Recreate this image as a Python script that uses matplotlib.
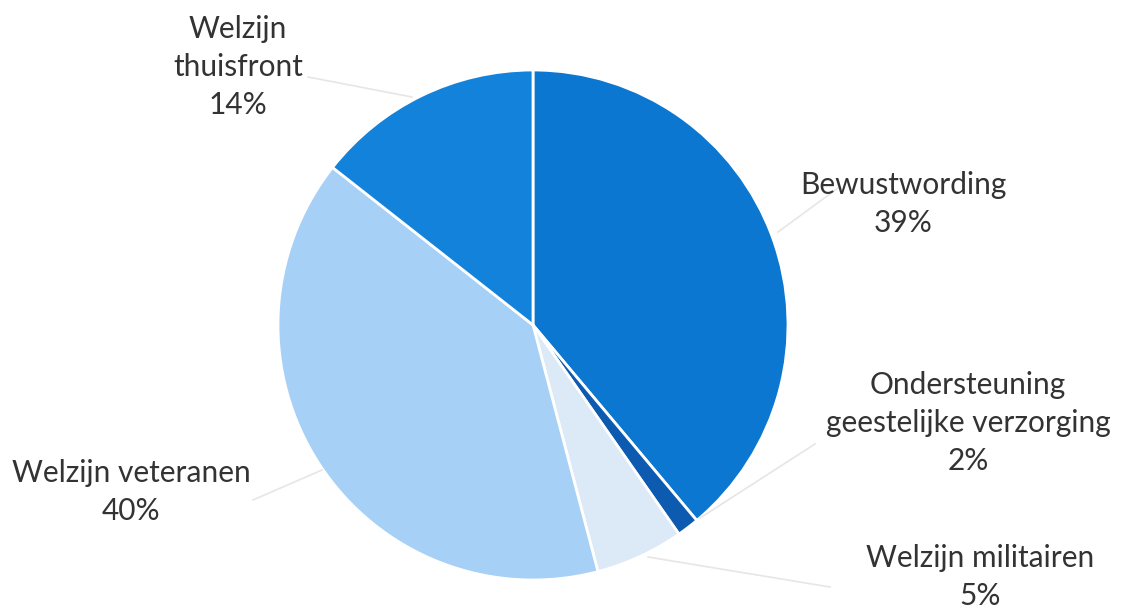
import matplotlib.pyplot as plt

#=====================================================================
#data
#=====================================================================
categories = ['Bewustwording', 'Ondersteuning\ngeestelijke verzorging',
              'Welzijn militairen', 'Welzijn veteranen', 'Welzijn\nthuisfront']
shares = [38.9, 1.4, 5.6, 39.7, 14.4]
pct_labels = ['39%', '2%', '5%', '40%', '14%']
colors = ['#0b77d1', '#0d5bb0', '#dce9f7', '#a6d0f5', '#1382da']

#label centres (figure pixels, top-left origin) and leader line ends
label_pos = [(903, 204), (968, 423), (980, 577), (131, 492), (238, 67)]
leader = [((838, 188), (778, 232)),
          ((815, 444), (700, 518)),
          ((830, 587), (648, 557)),
          ((253, 500), (322, 470)),
          ((308, 77), (412, 97))]

W, H = 1123, 611
cx, cy, r = 533, 325, 255

plt.rcParams['font.family'] = ['Lato', 'DejaVu Sans']

fig = plt.figure(figsize=(W / 100, H / 100), dpi=100)
ax = fig.add_axes([(cx - r) / W, (H - cy - r) / H, 2 * r / W, 2 * r / H])
ax.pie(shares, colors=colors, startangle=90, counterclock=False,
       wedgeprops=dict(edgecolor='white', linewidth=2))
ax.set_xlim(-1, 1)
ax.set_ylim(-1, 1)
ax.set_aspect('auto')
ax.axis('off')

#leader lines
for (x0, y0), (x1, y1) in leader:
    fig.add_artist(plt.Line2D([x0 / W, x1 / W], [1 - y0 / H, 1 - y1 / H],
                              transform=fig.transFigure, color='#e6e6e6', lw=1.2))

#labels
for cat, pct, (x, y) in zip(categories, pct_labels, label_pos):
    fig.text(x / W, 1 - y / H, cat + '\n' + pct, ha='center', va='center',
             fontsize=21.5, color='#333333', linespacing=1.45)

fig.savefig('out.png', dpi=100)
